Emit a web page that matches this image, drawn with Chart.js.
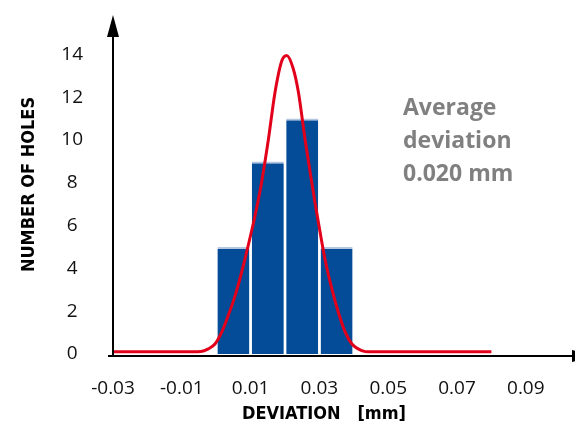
<!DOCTYPE html>
<html>
<head>
<meta charset="utf-8">
<script src="https://cdn.jsdelivr.net/npm/chart.js@4"></script>
<style>
  body { margin: 0; background: #fff; }
  canvas { display: block; }
</style>
</head>
<body>
<canvas id="chart" width="575" height="428"></canvas>
<script>
// histogram bins (bin centres) and hole counts
var binCentres = [0.005, 0.015, 0.025, 0.035];
var holeCounts = [5, 9, 11, 5];

// fitted distribution curve
var curveX = [-0.03, -0.01, -0.0045, -0.0023, -0.0003, 0.0016, 0.0035, 0.0055, 0.0074, 0.0093,
              0.0113, 0.0132, 0.0152, 0.0171, 0.0191, 0.0205, 0.0224, 0.0239, 0.0258, 0.0273,
              0.0287, 0.0302, 0.0316, 0.0336, 0.0355, 0.0375, 0.0394, 0.0423, 0.045, 0.06, 0.08];
var curveY = [0.1, 0.1, 0.12, 0.24, 0.48, 1.02, 1.8, 2.73, 3.82, 5.07,
              6.47, 8.03, 10.06, 12.23, 13.71, 13.95, 13.33, 12.23, 10.06, 8.5,
              7.09, 5.69, 4.45, 3.05, 1.95, 1.02, 0.48, 0.16, 0.1, 0.1, 0.1];

// axis ticks
var xTicks = [-0.03, -0.01, 0.01, 0.03, 0.05, 0.07, 0.09];
var xTickLabels = ['-0.03', '-0.01', '0.01', '0.03', '0.05', '0.07', '0.09'];
var yTicks = [0, 2, 4, 6, 8, 10, 12, 14];

var noteLines = ['Average', 'deviation', '0.020 mm'];
var xTitle = 'DEVIATION   [mm]';
var yTitle = 'NUMBER OF HOLES';

var narrowBold = "'Liberation Sans Narrow', 'DejaVu Sans Condensed', sans-serif";

// arrows on the axes, x title and the note text
var decor = {
    id: 'decor',
    afterDraw: function(chart) {
        var ctx = chart.ctx;
        var area = chart.chartArea;
        var xs = chart.scales.x, ys = chart.scales.y;
        var x0 = xs.getPixelForValue(-0.03);
        var y0 = ys.getPixelForValue(0) + 2;
        ctx.save();
        ctx.strokeStyle = '#000';
        ctx.fillStyle = '#000';
        ctx.lineWidth = 2.2;
        // x axis
        ctx.beginPath();
        ctx.moveTo(x0 - 5, y0);
        ctx.lineTo(area.right - 3, y0);
        ctx.stroke();
        ctx.beginPath();
        ctx.moveTo(area.right - 3, y0 - 6);
        ctx.lineTo(area.right + 19, y0);
        ctx.lineTo(area.right - 3, y0 + 6);
        ctx.closePath();
        ctx.fill();
        // y axis
        ctx.lineWidth = 2;
        ctx.beginPath();
        ctx.moveTo(x0, y0 + 1);
        ctx.lineTo(x0, area.top + 22);
        ctx.stroke();
        ctx.beginPath();
        ctx.moveTo(x0 - 6, area.top + 22);
        ctx.lineTo(x0, area.top);
        ctx.lineTo(x0 + 6, area.top + 22);
        ctx.closePath();
        ctx.fill();

        // x title
        ctx.font = 'bold 18px ' + narrowBold;
        ctx.textAlign = 'center';
        ctx.textBaseline = 'middle';
        ctx.fillStyle = '#000';
        ctx.fillText(xTitle, area.left + 211, 414);

        // note
        ctx.font = "bold 23px 'Open Sans', sans-serif";
        ctx.textAlign = 'left';
        ctx.textBaseline = 'alphabetic';
        ctx.fillStyle = '#808080';
        noteLines.forEach(function(t, i) {
            ctx.fillText(t, 403, 115 + i * 33);
        });
        ctx.restore();
    }
};

new Chart(document.getElementById('chart'), {
    type: 'bar',
    data: {
        datasets: [{
            type: 'line',
            data: curveX.map(function(x, i) { return { x: x, y: curveY[i] }; }),
            borderColor: '#e2001a',
            borderWidth: 3,
            pointRadius: 0,
            cubicInterpolationMode: 'monotone',
            fill: false,
            order: 0
        }, {
            type: 'bar',
            data: binCentres.map(function(x, i) { return { x: x, y: holeCounts[i] }; }),
            backgroundColor: '#044b98',
            borderColor: '#b5c6e0',
            borderWidth: { top: 2, left: 0, right: 0, bottom: 0 },
            borderSkipped: false,
            barPercentage: 0.93,
            categoryPercentage: 1,
            order: 1
        }]
    },
    options: {
        responsive: false,
        animation: false,
        devicePixelRatio: 1,
        layout: { padding: { top: 15, left: 0, right: 0, bottom: 0 } },
        plugins: { legend: { display: false }, tooltip: { enabled: false } },
        scales: {
            x: {
                type: 'linear',
                offset: false,
                min: -0.03,
                max: 0.1043,
                grid: { display: false, drawTicks: false },
                border: { display: false },
                afterBuildTicks: function(s) { s.ticks = xTicks.map(function(v) { return { value: v }; }); },
                afterFit: function(s) { s.height = 74; s.paddingLeft = 0; s.paddingRight = 0; },
                ticks: {
                    padding: 23,
                    color: '#111',
                    font: { family: "'Open Sans', sans-serif", size: 19 },
                    maxRotation: 0,
                    autoSkip: false,
                    callback: function(v, i) { return xTickLabels[i]; }
                }
            },
            y: {
                min: 0,
                max: 15.84,
                grid: { display: false, drawTicks: false },
                border: { display: false },
                afterBuildTicks: function(s) { s.ticks = yTicks.map(function(v) { return { value: v }; }); },
                afterFit: function(s) { s.width = 113; s.paddingTop = 0; s.paddingBottom = 0; },
                ticks: {
                    padding: 30,
                    crossAlign: 'center',
                    color: '#111',
                    font: { family: "'Open Sans', sans-serif", size: 19 },
                    callback: function(v) { return String(v); }
                },
                title: {
                    display: true,
                    text: yTitle,
                    color: '#000',
                    padding: { top: 19, bottom: 0 },
                    font: { family: narrowBold, size: 18, weight: 'bold' }
                }
            }
        }
    },
    plugins: [decor]
});
</script>
</body>
</html>
